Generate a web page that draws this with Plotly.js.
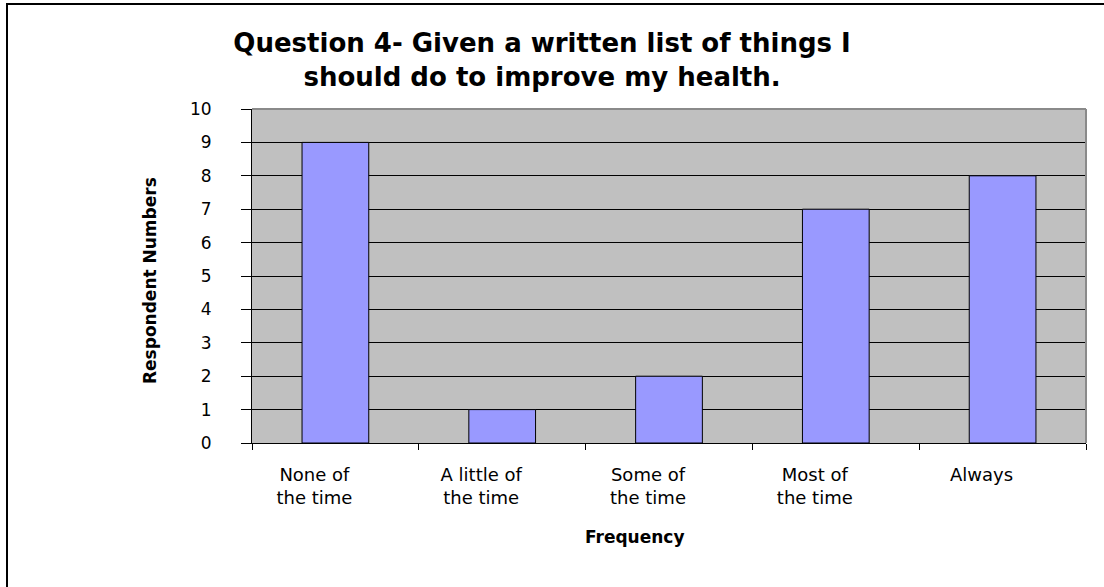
<!DOCTYPE html>
<html>
<head>
<meta charset="utf-8">
<script src="https://cdn.plot.ly/plotly-3.0.1.min.js"></script>
<style>
  html, body { margin: 0; padding: 0; background: #ffffff; }
  #wrap { position: relative; width: 1104px; height: 587px; overflow: hidden; }
  #chart { position: absolute; left: 0; top: 0; width: 1104px; height: 587px; }
  /* thin frame drawn along the top and left edges of the sheet */
  #frame { position: absolute; left: 6px; top: 3px; width: 1200px; height: 700px;
           border-left: 2px solid #000; border-top: 2px solid #000; pointer-events: none; }
</style>
</head>
<body>
<div id="wrap">
  <div id="chart"></div>
  <div id="frame"></div>
</div>
<script>
// Survey answers: how often respondents were given a written health plan
const categories = ["None of<br>the time", "A little of<br>the time", "Some of<br>the time", "Most of<br>the time", "Always"];
const respondents = [9, 1, 2, 7, 8];
const yTicks = [0, 1, 2, 3, 4, 5, 6, 7, 8, 9, 10];

const FONT = "DejaVu Sans, Liberation Sans, Arial, sans-serif";

const trace = {
  type: "bar",
  x: categories,
  y: respondents,
  width: 0.4,
  marker: { color: "#9999FF", line: { color: "#000000", width: 1 } },
  hoverinfo: "x+y"
};

const layout = {
  width: 1104,
  height: 587,
  margin: { l: 252, r: 18, t: 109, b: 144 },
  paper_bgcolor: "#ffffff",
  plot_bgcolor: "#C0C0C0",
  showlegend: false,
  font: { family: FONT, color: "#000000" },
  title: {
    text: "<b>Question 4- Given a written list of things I<br>should do to improve my health.</b>",
    font: { family: FONT, size: 26, color: "#000000" },
    xref: "container", x: 0.491, xanchor: "center",
    yref: "container", y: 1 - 52 / 587, yanchor: "top"
  },
  xaxis: {
    type: "category",
    tickson: "boundaries",
    ticks: "outside",
    ticklen: 6,
    tickwidth: 1,
    tickcolor: "#000000",
    showline: true,
    linecolor: "#000000",
    linewidth: 1,
    showgrid: false,
    zeroline: false,
    tickfont: { family: FONT, size: 18, color: "#000000" },
    ticklabelshift: -21,
    ticklabelstandoff: 15,
    fixedrange: true
  },
  yaxis: {
    range: [0, 10],
    tickvals: yTicks,
    ticks: "outside",
    ticklen: 10,
    tickwidth: 1,
    tickcolor: "#000000",
    showline: true,
    linecolor: "#000000",
    linewidth: 1,
    showgrid: true,
    gridcolor: "#000000",
    gridwidth: 1,
    zeroline: false,
    tickfont: { family: FONT, size: 17, color: "#000000" },
    ticklabelstandoff: 26,
    fixedrange: true
  },
  shapes: [
    // grey top and right edges of the plotting area
    { type: "line", xref: "paper", yref: "paper", x0: 0, x1: 1, y0: 1, y1: 1,
      line: { color: "#8a8a8a", width: 2 }, layer: "above" },
    { type: "line", xref: "paper", yref: "paper", x0: 1, x1: 1, y0: 0, y1: 1,
      line: { color: "#8a8a8a", width: 2 }, layer: "above" }
  ],
  annotations: [
    { text: "<b>Respondent Numbers</b>", textangle: -90,
      xref: "paper", yref: "paper", x: (150 - 252) / 834, y: (443 - 281) / 334,
      xanchor: "center", yanchor: "middle", showarrow: false,
      font: { family: FONT, size: 17, color: "#000000" } },
    { text: "<b>Frequency</b>",
      xref: "paper", yref: "paper", x: (635 - 252) / 834, y: (443 - 537) / 334,
      xanchor: "center", yanchor: "middle", showarrow: false,
      font: { family: FONT, size: 17, color: "#000000" } }
  ]
};

Plotly.newPlot("chart", [trace], layout, { displayModeBar: false, staticPlot: true });
</script>
</body>
</html>
